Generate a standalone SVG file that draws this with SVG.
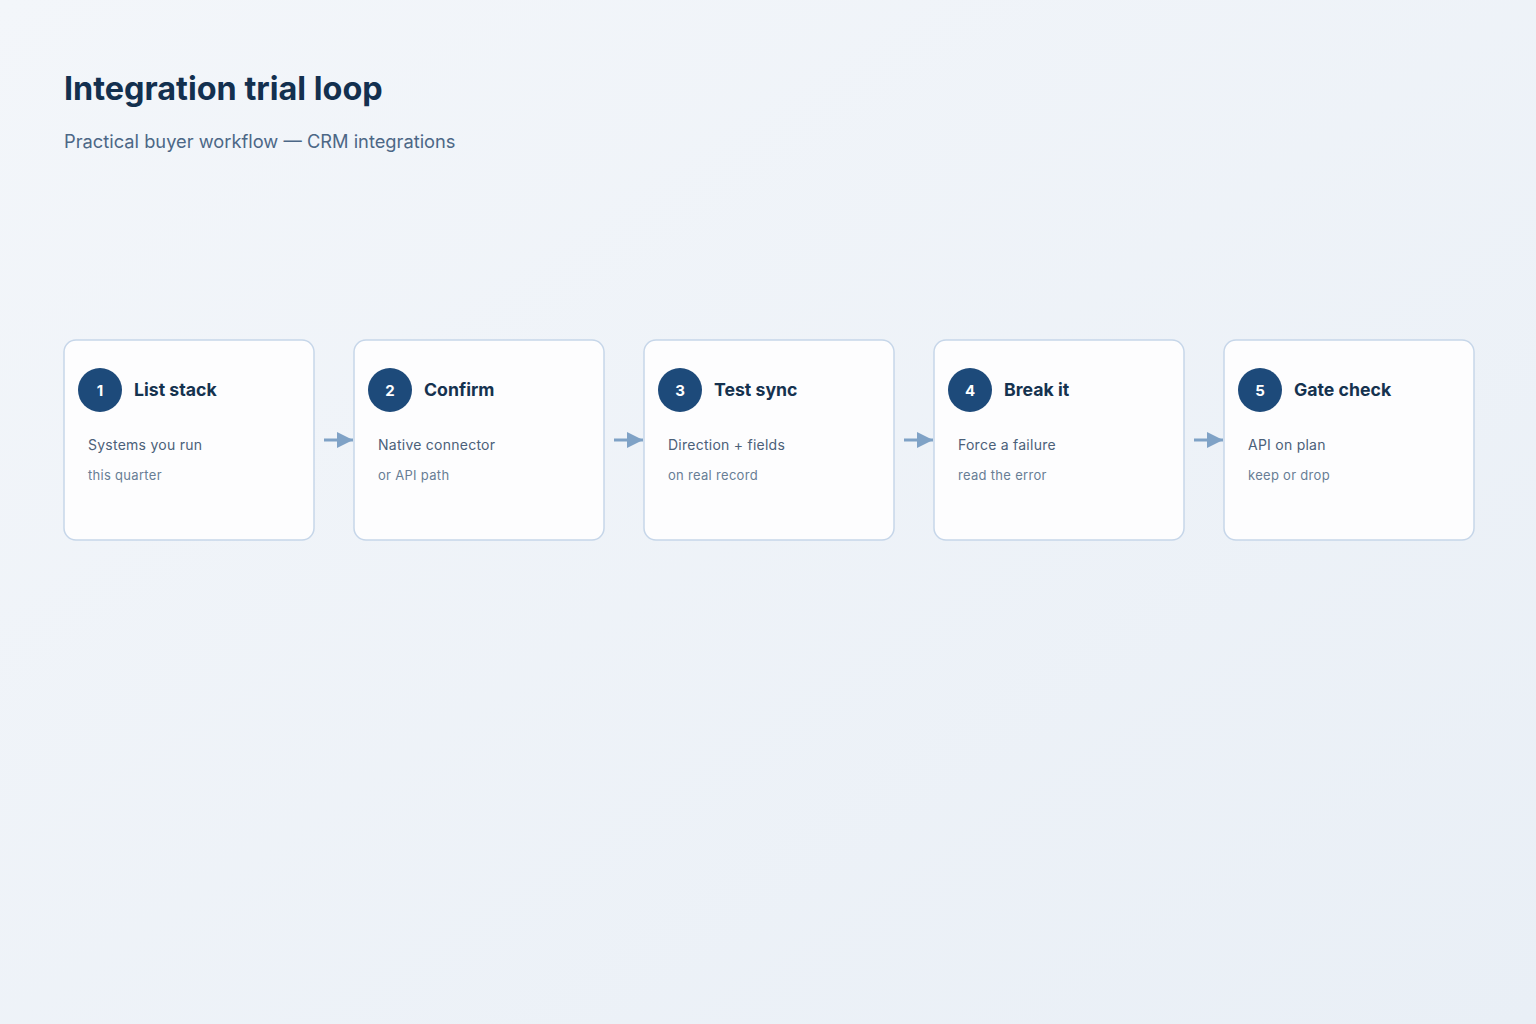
<svg xmlns="http://www.w3.org/2000/svg" width="1536" height="1024" viewBox="0 0 1536 1024">
<defs>
<linearGradient id="bg" x1="0" y1="0" x2="1" y2="1">
<stop offset="0" stop-color="#f3f6fa"/>
<stop offset="1" stop-color="#e9eff6"/>
</linearGradient>
<marker id="ah" viewBox="0 0 10 10" refX="10" refY="5" markerWidth="18" markerHeight="16" markerUnits="userSpaceOnUse" orient="auto">
<path d="M0,0 L10,5 L0,10 Z" fill="#7fa2c6"/>
</marker>
<style>
.card{fill:#fdfdfe;stroke:#c6d6e9;stroke-width:1.5}
.badge{fill:#1d4a7a}
.num{font-family:Inter,"Liberation Sans",sans-serif;font-size:15px;font-weight:700;fill:#ffffff;text-anchor:middle}
.ttl{font-family:Inter,"Liberation Sans",sans-serif;font-size:17.7px;font-weight:700;fill:#15324f}
.l1{font-family:Inter,"Liberation Sans",sans-serif;font-size:14px;letter-spacing:0.25px;fill:#4b6079}
.l2{font-family:Inter,"Liberation Sans",sans-serif;font-size:13px;letter-spacing:0.3px;fill:#687d95}
.conn{stroke:#7fa2c6;stroke-width:3;fill:none}
</style>
</defs>
<rect width="1536" height="1024" fill="url(#bg)"/>
<text x="64" y="100" font-family="Inter,'Liberation Sans',sans-serif" font-size="32.4" font-weight="700" fill="#13304f">Integration trial loop</text>
<text x="64" y="148" font-family="Inter,'Liberation Sans',sans-serif" font-size="18.3" fill="#4c6786">Practical buyer workflow — CRM integrations</text>

<g id="connectors">
<line class="conn" x1="324" y1="440" x2="353" y2="440" marker-end="url(#ah)"/>
<line class="conn" x1="614" y1="440" x2="643" y2="440" marker-end="url(#ah)"/>
<line class="conn" x1="904" y1="440" x2="933" y2="440" marker-end="url(#ah)"/>
<line class="conn" x1="1194" y1="440" x2="1223" y2="440" marker-end="url(#ah)"/>
</g>

<g id="node1">
<rect class="card" x="64" y="340" width="250" height="200" rx="12"/>
<circle class="badge" cx="100" cy="390" r="22"/>
<text class="num" x="100" y="395.5">1</text>
<text class="ttl" x="134" y="396">List stack</text>
<text class="l1" x="88" y="450">Systems you run</text>
<text class="l2" x="88" y="480">this quarter</text>
</g>
<g id="node2">
<rect class="card" x="354" y="340" width="250" height="200" rx="12"/>
<circle class="badge" cx="390" cy="390" r="22"/>
<text class="num" x="390" y="395.5">2</text>
<text class="ttl" x="424" y="396">Confirm</text>
<text class="l1" x="378" y="450">Native connector</text>
<text class="l2" x="378" y="480">or API path</text>
</g>
<g id="node3">
<rect class="card" x="644" y="340" width="250" height="200" rx="12"/>
<circle class="badge" cx="680" cy="390" r="22"/>
<text class="num" x="680" y="395.5">3</text>
<text class="ttl" x="714" y="396">Test sync</text>
<text class="l1" x="668" y="450">Direction + fields</text>
<text class="l2" x="668" y="480">on real record</text>
</g>
<g id="node4">
<rect class="card" x="934" y="340" width="250" height="200" rx="12"/>
<circle class="badge" cx="970" cy="390" r="22"/>
<text class="num" x="970" y="395.5">4</text>
<text class="ttl" x="1004" y="396">Break it</text>
<text class="l1" x="958" y="450">Force a failure</text>
<text class="l2" x="958" y="480">read the error</text>
</g>
<g id="node5">
<rect class="card" x="1224" y="340" width="250" height="200" rx="12"/>
<circle class="badge" cx="1260" cy="390" r="22"/>
<text class="num" x="1260" y="395.5">5</text>
<text class="ttl" x="1294" y="396">Gate check</text>
<text class="l1" x="1248" y="450">API on plan</text>
<text class="l2" x="1248" y="480">keep or drop</text>
</g>
</svg>
